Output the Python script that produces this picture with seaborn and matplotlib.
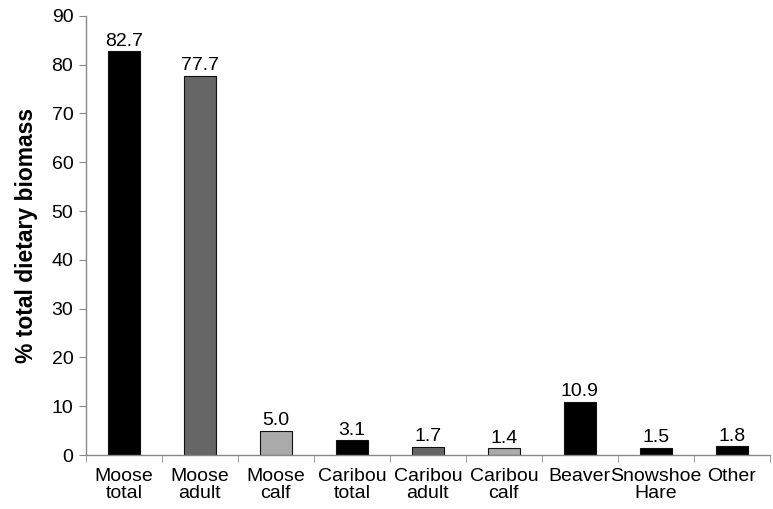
import matplotlib
matplotlib.use("Agg")
import matplotlib.pyplot as plt
import seaborn as sns
import pandas as pd
from matplotlib.ticker import FixedLocator

# Data
categories = ["Moose\ntotal", "Moose\nadult", "Moose\ncalf", "Caribou\ntotal",
              "Caribou\nadult", "Caribou\ncalf", "Beaver", "Snowshoe\nHare", "Other"]
values = [82.7, 77.7, 5.0, 3.1, 1.7, 1.4, 10.9, 1.5, 1.8]
bar_colors = ["#000000", "#666666", "#aaaaaa", "#000000", "#666666",
              "#aaaaaa", "#000000", "#000000", "#000000"]

df = pd.DataFrame({"prey": categories, "biomass": values})

sns.set_style("white")
plt.rcParams["font.family"] = ["Liberation Sans", "DejaVu Sans"]
plt.rcParams["text.color"] = "black"
plt.rcParams["xtick.color"] = "black"
plt.rcParams["ytick.color"] = "black"
plt.rcParams["axes.labelcolor"] = "black"

fig = plt.figure(figsize=(7.73, 5.09), dpi=100)
ax = fig.add_axes([0.111, 0.106, 0.885, 0.863])

sns.barplot(data=df, x="prey", y="biomass", hue="prey", palette=bar_colors,
            width=0.42, edgecolor="#111111", linewidth=0.8, legend=False, ax=ax)

for c in ax.containers:
    ax.bar_label(c, fmt="%.1f", fontsize=14, padding=1, color="black")

ax.set_ylim(0, 90)
ax.set_yticks(range(0, 91, 10))
ax.set_xlim(-0.5, len(categories) - 0.5)
ax.set_xlabel("")
ax.set_ylabel("% total dietary biomass", fontsize=16.5, fontweight="bold", labelpad=10)

# x ticks sit between categories
ax.xaxis.set_minor_locator(FixedLocator([i + 0.5 for i in range(-1, len(categories))]))
ax.tick_params(axis="x", which="major", length=0, labelsize=14, pad=9)
ax.tick_params(axis="x", which="minor", length=5, color="#888888", direction="out", bottom=True)
ax.tick_params(axis="y", length=5, color="#888888", labelcolor="black", direction="out",
               labelsize=14, left=True, pad=4)
for lab in ax.get_xticklabels():
    lab.set_linespacing(1.05)

sns.despine(ax=ax)
for s in ["left", "bottom"]:
    ax.spines[s].set_color("#888888")
    ax.spines[s].set_linewidth(1.0)

fig.savefig("out.png", dpi=100)
